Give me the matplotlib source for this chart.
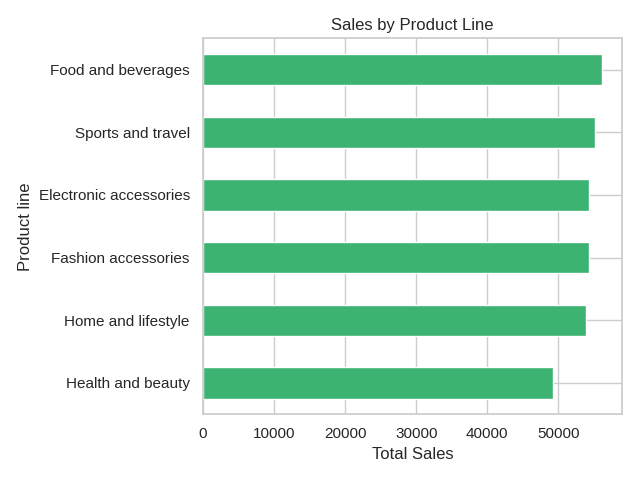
import matplotlib
matplotlib.use("Agg")
import matplotlib.pyplot as plt
import seaborn as sns

# Ventas totales por linea de producto (orden ascendente)
product_lines = ['Health and beauty', 'Home and lifestyle', 'Fashion accessories',
                 'Electronic accessories', 'Sports and travel', 'Food and beverages']
total_sales = [49193.74, 53861.91, 54305.90, 54337.53, 55122.83, 56144.84]

sns.set_theme(style='whitegrid')
plt.rcParams['font.family'] = ['Liberation Sans', 'DejaVu Sans']

fig, ax = plt.subplots(figsize=(6.4, 4.8), dpi=100)
ax.barh(product_lines, total_sales, height=0.5, color='mediumseagreen')
ax.set_ylim(-0.5, len(product_lines) - 0.5)

ax.set_xlabel('Total Sales')
ax.set_ylabel('Product line')
ax.set_title('Sales by Product Line')

plt.tight_layout()
plt.savefig('out.png')
